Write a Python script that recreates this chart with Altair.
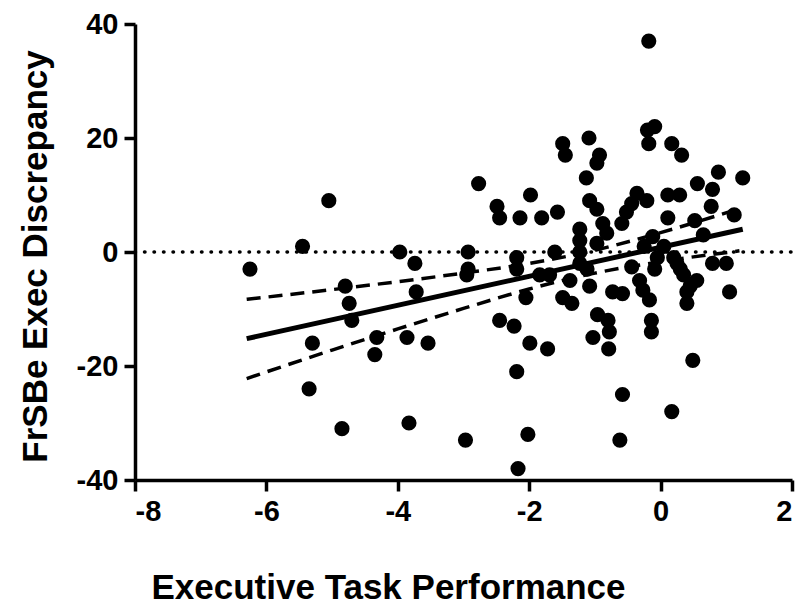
import altair as alt
import pandas as pd

# Scatter points
x_vals = [-6.25, -5.45, -5.05, -5.3, -5.35, -4.85, -4.8, -4.74, -4.7, -4.32,
          -4.35, -3.97, -3.74, -3.72, -3.86, -3.54, -3.83, -2.97, -2.93, -2.93,
          -2.95, -2.77, -2.49, -2.45, -2.45, -2.23, -2.19, -2.17, -2.02, -2.19,
          -2.19, -2.14, -1.98, -2.05, -1.99, -1.81, -1.72, -1.61, -1.57, -1.49,
          -1.45, -1.84, -1.69, -1.49, -1.35, -1.38, -1.23, -1.23, -1.23, -1.23,
          -1.12, -1.08, -1.13, -1.09, -0.93, -0.97, -1.08, -0.97, -0.97, -0.82,
          -0.88, -0.96, -0.8, -0.78, -1.03, -0.79, -0.73, -0.58, -0.58, -0.62,
          -0.59, -0.52, -0.44, -0.36, -0.21, -0.2, -0.09, -0.18, -0.18, -0.44,
          -0.32, -0.27, -0.17, -0.14, -0.14, -0.12, -0.09, 0.11, 0.29, 0.11,
          0.17, 0.32, 0.17, 0.49, 0.4, 0.4, 0.55, 0.52, 0.2, 0.3,
          0.35, 0.45, 0.25, 0.05, 0.56, 0.79, 0.88, 1.25, 0.77, 1.12,
          0.79, 1.0, 1.05, 0.65, -0.25, -0.05]
y_vals = [-3, 1, 9, -16, -24, -31, -6, -9, -12, -15,
          -18, 0, -2, -7, -15, -16, -30, -33, 0, -3,
          -4, 12, 8, 6, -12, -13, -21, -38, -32, -1,
          -3, 6, 10, -8, -16, 6, -17, 0, 7, 19,
          17, -4, -4, -8, -9, -5, 4, 2, 0, -2,
          -3, -6, 13, 20, 17, 15.6, 9, 7.5, 1.5, 3.3,
          5, -11, -12, -14, -15, -17, -7, -7.3, -25, -33,
          5, 7, 8.5, 10.3, 9, 21.4, 22, 19, 37, -2.6,
          -5, -6.7, -8.4, -12, -14, 2.7, -3, 10, 10, 6,
          19, 17, -28, -19, -9, -7, -5, 5.5, -1, -3,
          -4, -6, -2, 1, 12, 11, 14, 13, 8, 6.5,
          -2, -2, -7, 3, 1, -1]

# Regression line and 95% band
fit_x = [-6.3, 1.25]
fit_y = [-15.2, 4.0]
band_x = [-6.3, -5, -4, -3, -2, -1, 0, 1.2]
band_upper = [-8.3, -6.6, -5.2, -3.7, -2.0, 0.3, 3.4, 7.6]
band_lower = [-22.2, -17.2, -13.5, -9.9, -6.5, -3.7, -1.7, 0.2]

x_ticks = [-8, -6, -4, -2, 0, 2]
y_ticks = [-40, -20, 0, 20, 40]

FONT = "Liberation Sans"
LABEL = "datum.value < 0 ? '-' + abs(datum.value) : '' + datum.value"

pts = pd.DataFrame({"x": x_vals, "y": y_vals})
fit = pd.DataFrame({"x": fit_x, "y": fit_y})
up = pd.DataFrame({"x": band_x, "y": band_upper})
lo = pd.DataFrame({"x": band_x, "y": band_lower})
zero = pd.DataFrame({"x": [-8, 2], "y": [0, 0]})

xscale = alt.Scale(domain=[-8, 2], nice=False, zero=False)
yscale = alt.Scale(domain=[-40, 40], nice=False, zero=False)

xaxis = alt.Axis(values=x_ticks, title="Executive Task Performance", labelExpr=LABEL,
                 titleX=253, titleY=107, titleAlign="center", titleBaseline="middle",
                 labelPadding=6, tickSize=11)
yaxis = alt.Axis(values=y_ticks, title="FrSBe Exec Discrepancy", labelExpr=LABEL,
                 titleX=-100, titleY=232, titleAlign="center", titleBaseline="middle",
                 titleAngle=270, labelPadding=6, tickSize=11)


def X():
    return alt.X("x:Q", scale=xscale, axis=xaxis)


def Y():
    return alt.Y("y:Q", scale=yscale, axis=yaxis)


zero_layer = alt.Chart(zero).mark_line(color="black", strokeWidth=3.5, strokeCap="round",
                                       strokeDash=[0.5, 9]).encode(x=X(), y=Y())
up_layer = alt.Chart(up).mark_line(color="black", strokeWidth=3.5, strokeDash=[14, 8],
                                   interpolate="monotone").encode(x=X(), y=Y())
lo_layer = alt.Chart(lo).mark_line(color="black", strokeWidth=3.5, strokeDash=[14, 8],
                                   interpolate="monotone").encode(x=X(), y=Y())
fit_layer = alt.Chart(fit).mark_line(color="black", strokeWidth=5).encode(x=X(), y=Y())
pt_layer = alt.Chart(pts).mark_circle(color="black", opacity=1, size=230).encode(x=X(), y=Y())

chart = alt.layer(zero_layer, up_layer, lo_layer, fit_layer, pt_layer).properties(
    width=657, height=456,
    autosize=alt.AutoSizeParams(type="none"),
    padding={"left": 127, "top": 16, "right": 5, "bottom": 130},
    background="white",
).configure_view(stroke=None).configure_axis(
    grid=False,
    domainColor="black", domainWidth=3.5,
    tickColor="black", tickWidth=3.5,
    labelFont=FONT, labelFontSize=29, labelFontWeight="bold", labelColor="black",
    titleFont=FONT, titleFontSize=35, titleFontWeight="bold", titleColor="black",
)

chart.save("out.html", embed_options={"renderer": "svg", "actions": False})
